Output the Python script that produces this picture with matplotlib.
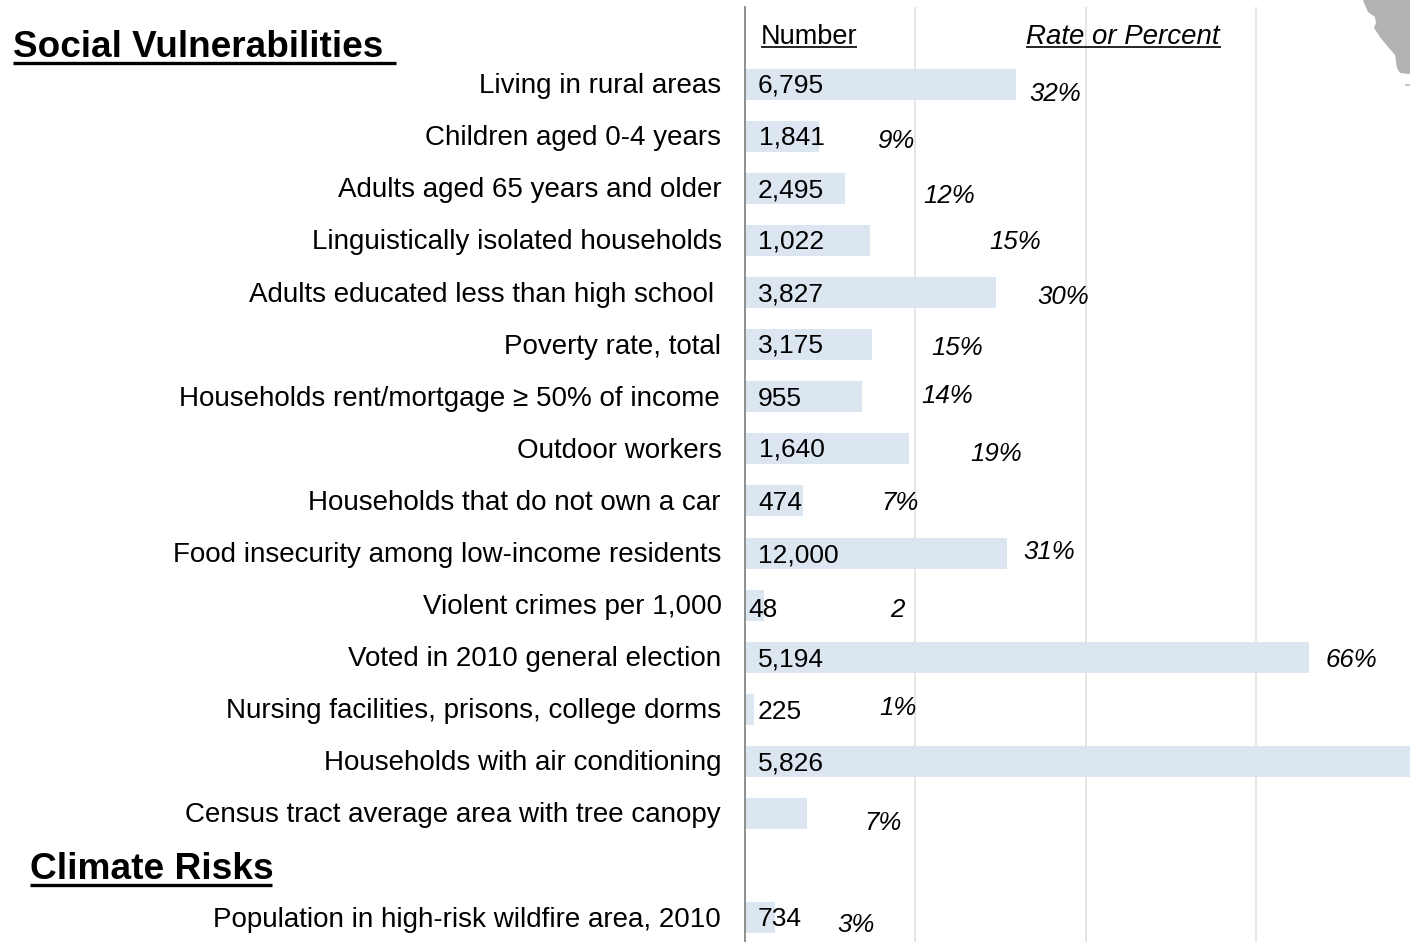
import matplotlib
matplotlib.use("Agg")
import matplotlib.pyplot as plt
from matplotlib.lines import Line2D
from matplotlib.patches import Polygon

plt.rcParams['font.family'] = ['Liberation Sans', 'DejaVu Sans']

W = 1410
H = 942

labels = ["Living in rural areas", "Children aged 0-4 years", "Adults aged 65 years and older",
          "Linguistically isolated households", "Adults educated less than high school",
          "Poverty rate, total", "Households rent/mortgage \u2265 50% of income", "Outdoor workers",
          "Households that do not own a car", "Food insecurity among low-income residents",
          "Violent crimes per 1,000", "Voted in 2010 general election",
          "Nursing facilities, prisons, college dorms", "Households with air conditioning",
          "Census tract average area with tree canopy", "Population in high-risk wildfire area, 2010"]
numbers = ["6,795", "1,841", "2,495", "1,022", "3,827", "3,175", "955", "1,640", "474", "12,000",
           "48", "5,194", "225", "5,826", "", "734"]
rates = ["32%", "9%", "12%", "15%", "30%", "15%", "14%", "19%", "7%", "31%", "2", "66%", "1%", "",
         "7%", "3%"]
# bar lengths, the air conditioning one runs off the edge of the picture
bar_values = [31.8, 8.7, 11.7, 14.7, 29.5, 14.9, 13.7, 19.2, 6.8, 30.8, 2.2, 66.2, 1.1, 85, 7.3, 3.5]
rows = [0, 1, 2, 3, 4, 5, 6, 7, 8, 9, 10, 11, 12, 13, 14, 16]

# where the labels sit in the picture, in pixels
label_right = [721, 721, 722, 722, 714, 721, 720, 722, 721, 721, 722, 721, 721, 721, 721, 721]
label_base = [93, 145, 197, 249, 302, 354, 406, 458, 510, 562, 614, 666, 718, 770, 822, 927]
number_left = [758, 759, 758, 758, 758, 758, 758, 759, 758, 758, 748, 758, 758, 758, 758, 758]
number_base = [93, 145, 197, 249, 302, 353, 406, 457, 510, 562, 617, 667, 719, 771, 771, 926]
rate_mid = [1055, 896, 949, 1015, 1063, 957, 947, 996, 900, 1049, 897, 1351, 898, 0, 883, 856]
rate_base = [101, 148, 203, 249, 304, 355, 403, 461, 510, 559, 617, 667, 715, 0, 830, 932]


def fx(x):
    return x / W


def fy(y):
    return 1 - y / H


fig = plt.figure(figsize=(W / 100, H / 100), dpi=100)

# map corner behind everything
coast = [(1363, 0), (1364, 3), (1368, 12), (1375, 17), (1376, 23), (1374, 28), (1380, 37), (1388, 47),
         (1395, 55), (1397, 68), (1400, 73), (1410, 74), (1410, 0)]
fig.add_artist(Polygon([(fx(x), fy(y)) for x, y in coast], closed=True, transform=fig.transFigure,
                       facecolor="#b2b2b2", edgecolor="none"))
fig.add_artist(Polygon([(fx(x), fy(y)) for x, y in [(1405, 84), (1410, 84), (1410, 86), (1405, 86)]],
                       closed=True, transform=fig.transFigure, facecolor="#c8c8c8", edgecolor="none"))

ax = fig.add_axes([fx(745), 0, fx(665), 1 - 7 / H])
ax.patch.set_alpha(0)
ax.barh(rows, bar_values, height=0.595, color="#dce6f1", zorder=2)
ax.set_xlim(0, 78.05)
ax.set_ylim(16.47, -1.4875)
ax.set_xticks([20, 40, 60])
ax.set_yticks([])
ax.tick_params(length=0, labelbottom=False)
ax.set_axisbelow(True)
ax.grid(axis="x", color="#e0e0e0", linewidth=1.2)
for s in ["top", "right", "bottom"]:
    ax.spines[s].set_visible(False)
ax.spines["left"].set_color("#868686")
ax.spines["left"].set_linewidth(1.3)
ax.spines["left"].set_zorder(4)

for i in range(len(labels)):
    fig.text(fx(label_right[i]), fy(label_base[i]), labels[i], ha="right", va="baseline", fontsize=20)
    if numbers[i]:
        fig.text(fx(number_left[i]), fy(number_base[i]), numbers[i], ha="left", va="baseline", fontsize=19)
    if rates[i]:
        fig.text(fx(rate_mid[i]), fy(rate_base[i]), rates[i], ha="center", va="baseline", fontsize=18.6,
                 style="italic")

fig.text(fx(13), fy(57), "Social Vulnerabilities", ha="left", va="baseline", fontsize=26.6, weight="bold")
fig.text(fx(30), fy(879), "Climate Risks", ha="left", va="baseline", fontsize=26.7, weight="bold")
fig.text(fx(761), fy(44), "Number", ha="left", va="baseline", fontsize=19.5)
fig.text(fx(1026), fy(44), "Rate or Percent", ha="left", va="baseline", fontsize=19.9, style="italic")

# underlines
for x0, x1, y, lw in [(13, 396, 63, 2.4), (30, 272, 885, 2.4), (761, 857, 47, 1.2), (1026, 1221, 47, 1.2)]:
    fig.add_artist(Line2D([fx(x0), fx(x1)], [fy(y), fy(y)], transform=fig.transFigure, color="black",
                          linewidth=lw, solid_capstyle="butt"))

fig.savefig("out.png", dpi=100)
